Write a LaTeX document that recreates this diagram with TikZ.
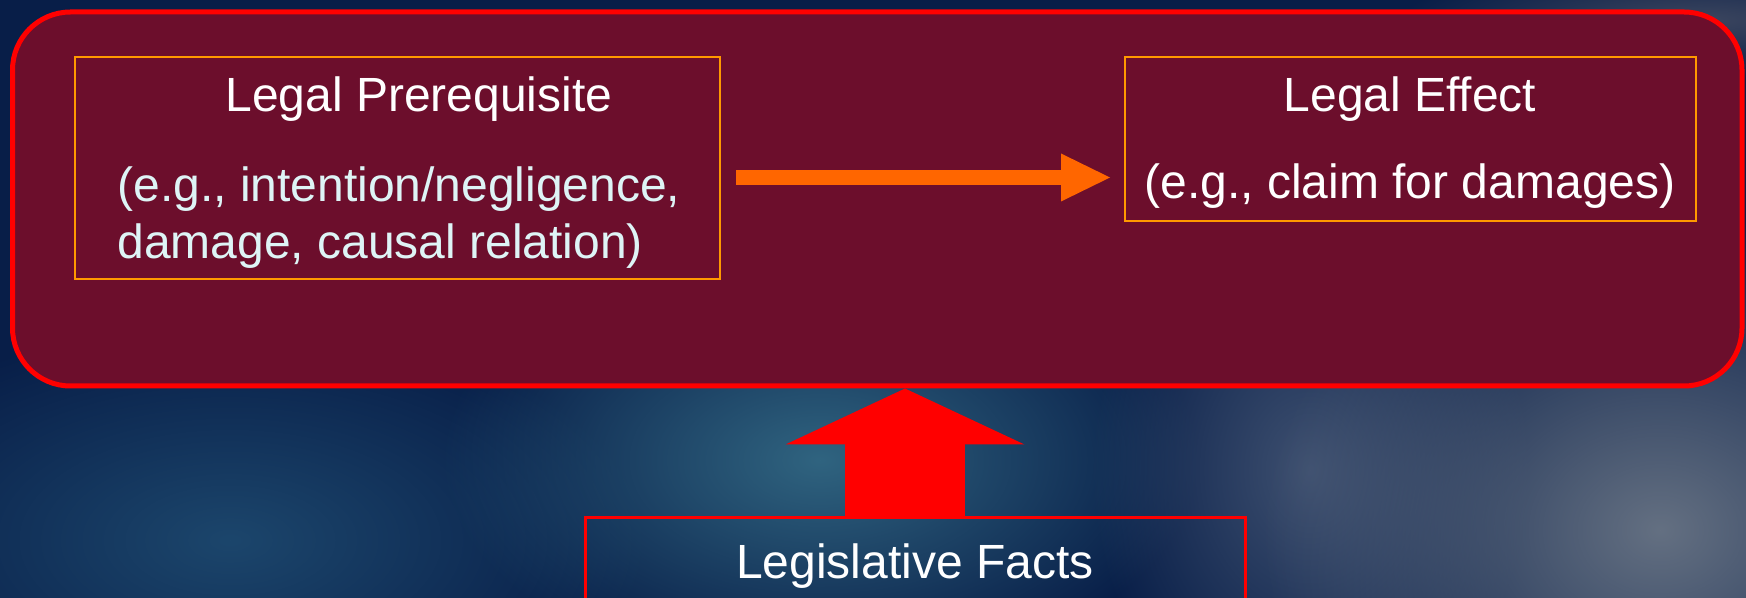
\documentclass[tikz,border=0pt]{standalone}
\usepackage{fontspec}
\setmainfont{Liberation Sans}
\usetikzlibrary{arrows.meta,fit,fadings}

\definecolor{bgnavy}{RGB}{8,30,72}
\definecolor{panelred}{RGB}{108,14,44}
\definecolor{boxorange}{RGB}{255,153,0}
\definecolor{floworange}{RGB}{255,102,0}
\definecolor{palecyan}{RGB}{222,244,246}
\definecolor{seateal}{RGB}{28,70,108}
\definecolor{shallowteal}{RGB}{48,100,128}
\definecolor{haze}{RGB}{62,80,112}
\definecolor{cloudgrey}{RGB}{100,112,130}
\definecolor{topgrey}{RGB}{60,70,95}

% soft-edged blob used for the cloud patches of the backdrop
\tikzfading[name=softblob, inner color=transparent!0, outer color=transparent!100]

\begin{document}
\begin{tikzpicture}[x=0.5pt,y=-0.5pt,
  panel/.style={draw=red, line width=2.5pt, rounded corners=29pt,
    fill=panelred, inner sep=0pt},
  infobox/.style={draw=boxorange, line width=1pt, inner sep=0pt},
  factbox/.style={draw=red, line width=1.5pt, inner sep=0pt},
  titletext/.style={text=white, inner sep=0pt, font=\fontsize{24}{29}\selectfont},
  detailtext/.style={text=palecyan, inner sep=0pt, align=left,
    font=\fontsize{24}{28.5}\selectfont},
  flowarrow/.style={draw=floworange, line width=7.5pt,
    -{Triangle[length=24.5pt,width=24pt,line width=0pt]}, shorten >=7pt},
  bigarrow/.style={draw=red, line width=60pt,
    -{Triangle[length=28pt,width=119.5pt,line width=0pt]}},
  cloud/.style={fill=#1, path fading=softblob}]

\clip (0,0) rectangle (1746,598);

% night-side satellite backdrop
\fill[bgnavy] (0,0) rectangle (1746,598);
\fill[cloud=seateal] (230,540) ellipse [x radius=420, y radius=220];
\fill[cloud=shallowteal] (820,460) ellipse [x radius=380, y radius=220];
\fill[cloud=haze] (1310,470) ellipse [x radius=220, y radius=280];
\fill[cloud=cloudgrey] (1660,530) ellipse [x radius=400, y radius=320];
\fill[cloud=topgrey] (1700,20) ellipse [x radius=300, y radius=60];

% outer rounded panel
\coordinate (f1) at (12.5,12);
\coordinate (f2) at (1742,386);
\node[panel, fit=(f1)(f2)] (frame) {};

% boxes
\coordinate (p1) at (75,57);
\coordinate (p2) at (720,279);
\node[infobox, fit=(p1)(p2)] (pre) {};
\coordinate (e1) at (1125,57);
\coordinate (e2) at (1696,221);
\node[infobox, fit=(e1)(e2)] (eff) {};
\coordinate (l1) at (585,518);
\coordinate (l2) at (1245,660);
\node[factbox, fit=(l1)(l2)] (facts) {};

% texts
\node[titletext, anchor=base] (preT) at (419,112) {Legal Prerequisite};
\node[detailtext, anchor=north west] (preD) at (117,166)
  {(e.g., intention/negligence,\\damage, causal relation)};
\node[titletext, anchor=base] (effT) at (1410,112) {Legal Effect};
\node[titletext, anchor=base] (effD) at (1410,199) {(e.g., claim for damages)};
\node[titletext, anchor=base] (factsT) at (915,578) {Legislative Facts};

% connectors
\coordinate (arrS) at ([shift={(15,9.5)}]pre.east);
\draw[flowarrow] (arrS) -- (arrS -| eff.west);
\coordinate (upS) at ([xshift=-5pt]facts.north);
\draw[bigarrow] (upS) -- (upS |- frame.south);
\end{tikzpicture}
\end{document}
